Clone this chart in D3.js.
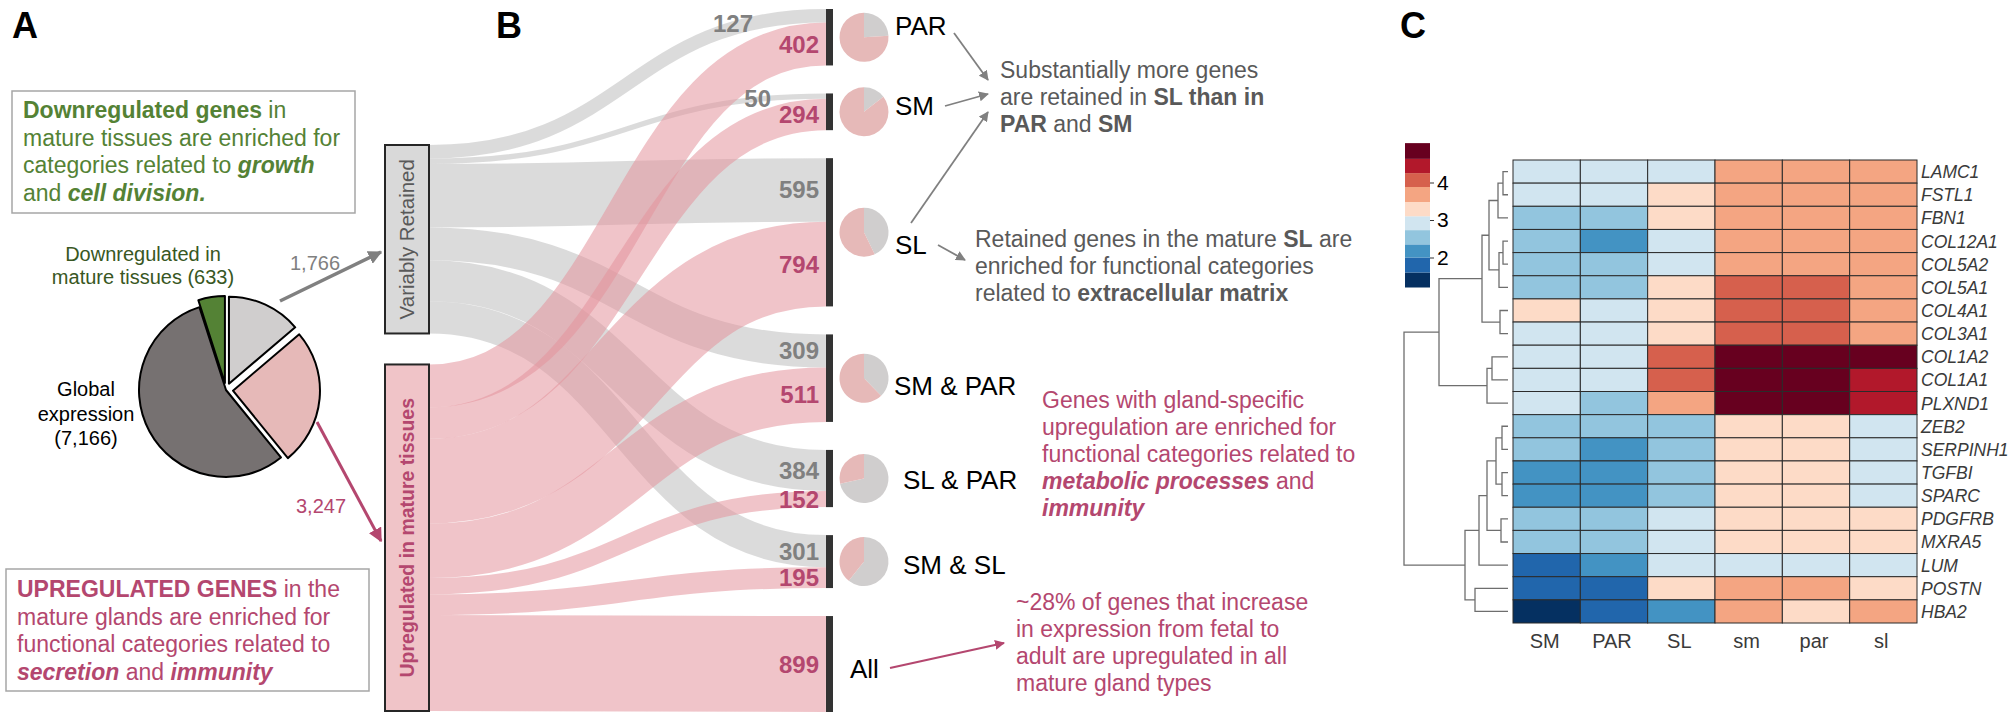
<!DOCTYPE html>
<html>
<head>
<meta charset="utf-8">
<script src="https://cdn.jsdelivr.net/npm/d3@7"></script>
<style>
  body { margin: 0; background: #fff; }
  svg { display: block; font-family: "Liberation Sans", Arial, sans-serif; }
</style>
</head>
<body>
<svg id="fig" width="2012" height="727"></svg>
<script>
// ---- panel A: global expression pie ----
const pieNames = ["Variably retained", "Upregulated", "Global expression", "Downregulated"];
const pieValues = [1766, 3247, 7166, 633];

// ---- panel B: sankey of retained / upregulated genes ----
const sourceNames = ["Variably Retained", "Upregulated in mature tissues"];
const targetNames = ["PAR", "SM", "SL", "SM & PAR", "SL & PAR", "SM & SL", "All"];
const retained = [127, 50, 595, 309, 384, 301, 0];
const upregulated = [402, 294, 794, 511, 152, 195, 899];

// ---- panel C: heatmap ----
const samples = ["SM", "PAR", "SL", "sm", "par", "sl"];
const genes = ["LAMC1", "FSTL1", "FBN1", "COL12A1", "COL5A2", "COL5A1", "COL4A1", "COL3A1",
  "COL1A2", "COL1A1", "PLXND1", "ZEB2", "SERPINH1", "TGFBI", "SPARC", "PDGFRB", "MXRA5",
  "LUM", "POSTN", "HBA2"];
const expr = [
  [2.9, 2.9, 2.9, 3.7, 3.7, 3.7],
  [2.9, 2.9, 3.3, 3.7, 3.7, 3.7],
  [2.55, 2.55, 3.3, 3.7, 3.7, 3.7],
  [2.55, 2.2, 2.9, 3.7, 3.7, 3.7],
  [2.55, 2.55, 2.9, 3.7, 3.7, 3.7],
  [2.55, 2.55, 3.3, 4.05, 4.05, 3.7],
  [3.3, 2.9, 3.3, 4.05, 4.05, 3.7],
  [2.9, 2.9, 3.3, 4.05, 4.05, 3.7],
  [2.9, 2.9, 4.05, 4.8, 4.8, 4.8],
  [2.9, 2.9, 4.05, 4.8, 4.8, 4.45],
  [2.9, 2.55, 3.7, 4.8, 4.8, 4.45],
  [2.55, 2.55, 2.55, 3.3, 3.3, 2.9],
  [2.55, 2.2, 2.55, 3.3, 3.3, 2.9],
  [2.2, 2.2, 2.55, 3.3, 3.3, 2.9],
  [2.2, 2.2, 2.55, 3.3, 3.3, 2.9],
  [2.55, 2.55, 2.9, 3.3, 3.3, 3.3],
  [2.55, 2.55, 2.9, 3.3, 3.3, 3.3],
  [1.8, 2.2, 2.9, 2.9, 2.9, 2.9],
  [1.8, 1.8, 3.3, 3.7, 3.7, 3.3],
  [1.4, 1.8, 2.2, 3.7, 3.3, 3.7]
];
const legendBreaks = [1.2, 1.6, 2.0, 2.35, 2.73, 3.1, 3.48, 3.88, 4.25, 4.63, 5.05];
const legendTicks = [2, 3, 4];
// row clustering: merge heights
const dendro = {h: 104, c: [
  {h: 69, c: [
    {h: 26, c: [
      {h: 19, c: [
        {h: 10, c: [{h: 5, c: ["LAMC1", "FSTL1"]}, "FBN1"]},
        {h: 9, c: [{h: 5, c: ["COL12A1", "COL5A2"]}, "COL5A1"]}
      ]},
      {h: 8, c: ["COL4A1", "COL3A1"]}
    ]},
    {h: 21, c: [{h: 16, c: ["COL1A2", "COL1A1"]}, "PLXND1"]}
  ]},
  {h: 43, c: [
    {h: 29, c: [
      {h: 21, c: [
        {h: 12, c: [{h: 6, c: ["ZEB2", "SERPINH1"]}, {h: 6, c: ["TGFBI", "SPARC"]}]},
        {h: 7, c: ["PDGFRB", "MXRA5"]}
      ]},
      "LUM"
    ]},
    {h: 33, c: ["POSTN", "HBA2"]}
  ]}
]};

const GREEN = "#548235", DKGREEN = "#385723", PINK = "#b4476f", GREYTXT = "#595959";

const svg = d3.select("#fig");
const defs = svg.append("defs");
function marker(id, color, size) {
  defs.append("marker").attr("id", id)
    .attr("viewBox", "0 0 10 10").attr("refX", 9).attr("refY", 5)
    .attr("markerUnits", "userSpaceOnUse")
    .attr("markerWidth", size).attr("markerHeight", size)
    .attr("orient", "auto")
    .append("path").attr("d", "M0,0L10,5L0,10z").attr("fill", color);
}
marker("arrGreyBig", "#808080", 14);
marker("arrPinkBig", PINK, 14);
marker("arrGrey", "#808080", 10);
marker("arrPink", PINK, 10);

function arrow(x1, y1, x2, y2, color, w, m) {
  svg.append("line").attr("x1", x1).attr("y1", y1).attr("x2", x2).attr("y2", y2)
    .attr("stroke", color).attr("stroke-width", w).attr("marker-end", `url(#${m})`);
}

function richText(x, y0, lh, lines, color, size, anchor) {
  const t = svg.append("text").attr("fill", color).style("font-size", size + "px")
    .attr("text-anchor", anchor || "start");
  lines.forEach((segs, i) => {
    segs.forEach((s, j) => {
      const ts = t.append("tspan").text(s[0]);
      if (j === 0) ts.attr("x", x).attr("y", y0 + i * lh);
      if (s[1] && s[1].includes("b")) ts.attr("font-weight", "bold");
      if (s[1] && s[1].includes("i")) ts.attr("font-style", "italic");
    });
  });
  return t;
}

// panel letters
[["A", 12], ["B", 496], ["C", 1400]].forEach(([l, x]) => {
  svg.append("text").attr("x", x).attr("y", 38).text(l)
    .style("font-size", "36px").attr("font-weight", "bold").attr("fill", "#000");
});

// ================= PANEL A =================
svg.append("rect").attr("x", 12).attr("y", 91).attr("width", 343).attr("height", 122)
  .attr("fill", "#fff").attr("stroke", "#a6a6a6").attr("stroke-width", 1.5);
richText(23, 118, 27.5, [
  [["Downregulated genes", "b"], [" in"]],
  [["mature tissues are enriched for"]],
  [["categories related to "], ["growth", "bi"]],
  [["and "], ["cell division.", "bi"]]
], GREEN, 23);

svg.append("rect").attr("x", 6).attr("y", 569).attr("width", 363).attr("height", 122)
  .attr("fill", "#fff").attr("stroke", "#a6a6a6").attr("stroke-width", 1.5);
richText(17, 597, 27.5, [
  [["UPREGULATED GENES", "b"], [" in the"]],
  [["mature glands are enriched for"]],
  [["functional categories related to"]],
  [["secretion", "bi"], [" and "], ["immunity", "bi"]]
], PINK, 23);

const pieColors = d3.scaleOrdinal().domain(pieNames)
  .range(["#d0cece", "#e6b9b8", "#767171", "#548235"]);
const pieA = d3.pie().sort(null)(pieValues);
const arcA = d3.arc().innerRadius(0).outerRadius(87);
const gPie = svg.append("g").attr("transform", "translate(226,390)");
gPie.selectAll("path").data(pieA).join("path")
  .attr("d", arcA)
  .attr("transform", (d, i) => {
    if (pieNames[i] === "Global expression") return null;
    const m = (d.startAngle + d.endAngle) / 2, off = 7;
    return `translate(${off * Math.sin(m)},${-off * Math.cos(m)})`;
  })
  .attr("fill", (d, i) => pieColors(pieNames[i]))
  .attr("stroke", "#000").attr("stroke-width", 2).attr("stroke-linejoin", "round");

richText(143, 261, 23, [[["Downregulated in"]], [["mature tissues (633)"]]], DKGREEN, 20, "middle");
richText(86, 396, 24.5, [[["Global"]], [["expression"]], [["(7,166)"]]], "#000", 20, "middle");

arrow(280, 301, 381, 252, "#808080", 3.5, "arrGreyBig");
svg.append("text").attr("x", 290).attr("y", 270).text(d3.format(",")(d3.sum(retained)))
  .attr("fill", "#808080").style("font-size", "20px");
arrow(317, 422, 381, 541, PINK, 3, "arrPinkBig");
svg.append("text").attr("x", 296).attr("y", 513).text(d3.format(",")(d3.sum(upregulated)))
  .attr("fill", PINK).style("font-size", "20px");

// ================= PANEL B =================
const nodeTop = 9, nodeBottom = 712, nodePad = 28;
const totals = targetNames.map((t, i) => retained[i] + upregulated[i]);
const vScale = d3.scaleLinear().domain([0, d3.sum(totals)])
  .range([0, nodeBottom - nodeTop - nodePad * (targetNames.length - 1)]);

const srcX1 = 429, srcX0 = 385, tgtX0 = 826, tgtX1 = 833;
const srcTotals = [d3.sum(retained), d3.sum(upregulated)];
const srcY0 = [145];
srcY0.push(srcY0[0] + vScale(srcTotals[0]) + 31);

const tgtY0 = [];
let acc = nodeTop;
totals.forEach(t => { tgtY0.push(acc); acc += vScale(t) + nodePad; });

// build links
const links = [];
const srcOff = srcY0.slice();
const tgtOff = tgtY0.slice();
const series = [retained, upregulated];
series.forEach((vals, s) => {
  vals.forEach((v, i) => {
    if (!v) return;
    const w = vScale(v);
    links.push({s, t: i, value: v, w, sy: srcOff[s] + w / 2});
    srcOff[s] += w;
  });
});
targetNames.forEach((name, i) => {
  [0, 1].forEach(s => {
    const l = links.find(d => d.s === s && d.t === i);
    if (!l) return;
    l.ty = tgtOff[i] + l.w / 2;
    tgtOff[i] += l.w;
  });
});

const linkPath = d3.linkHorizontal();
const linkColor = ["#bdbdbd", "#e3949c"];
svg.append("g").selectAll("path").data(links).join("path")
  .attr("d", d => linkPath({source: [srcX1, d.sy], target: [tgtX0, d.ty]}))
  .attr("fill", "none")
  .attr("stroke", d => linkColor[d.s])
  .attr("stroke-opacity", 0.55)
  .attr("stroke-width", d => d.w);

// source boxes
const srcFill = ["#d9d9d9", "#f0c4c8"];
sourceNames.forEach((n, s) => {
  const h = vScale(srcTotals[s]);
  svg.append("rect").attr("x", srcX0).attr("y", srcY0[s]).attr("width", srcX1 - srcX0).attr("height", h)
    .attr("fill", srcFill[s]).attr("stroke", "#262626").attr("stroke-width", 2);
  svg.append("text")
    .attr("transform", `translate(${(srcX0 + srcX1) / 2 + 7},${srcY0[s] + h / 2}) rotate(-90)`)
    .attr("text-anchor", "middle").text(n)
    .attr("fill", s === 0 ? GREYTXT : PINK)
    .attr("font-weight", s === 0 ? "normal" : "bold")
    .style("font-size", s === 0 ? "20.5px" : "19.5px");
});

// target bars
svg.append("g").selectAll("rect").data(targetNames).join("rect")
  .attr("x", tgtX0).attr("y", (d, i) => tgtY0[i])
  .attr("width", tgtX1 - tgtX0).attr("height", (d, i) => vScale(totals[i]))
  .attr("fill", "#333");

// value labels
const labelNudge = {"0-0": [-66, 8], "0-1": [-48, 2]};
svg.append("g").selectAll("text").data(links).join("text")
  .attr("x", d => 819 + (labelNudge[d.s + "-" + d.t] || [0, 0])[0])
  .attr("y", d => d.ty + 8.5 + (labelNudge[d.s + "-" + d.t] || [0, 0])[1])
  .attr("text-anchor", "end")
  .attr("font-weight", "bold")
  .style("font-size", "24px")
  .attr("fill", d => d.s === 0 ? "#808080" : PINK)
  .text(d => d.value);

// small pies
const pieB = d3.pie().sort(null);
const arcB = d3.arc().innerRadius(0).outerRadius(24.5);
targetNames.forEach((n, i) => {
  if (!retained[i]) return;
  const cy = tgtY0[i] + vScale(totals[i]) / 2;
  svg.append("g").attr("transform", `translate(864,${cy})`)
    .selectAll("path").data(pieB([retained[i], upregulated[i]])).join("path")
    .attr("d", arcB).attr("fill", (d, j) => j === 0 ? "#d0cece" : "#e6b9b8");
});

// node labels
const nodeLabelPos = {"PAR": [895, -2], "SM": [895, 3], "SL": [895, 22], "SM & PAR": [894, 17],
  "SL & PAR": [903, 10], "SM & SL": [903, 12], "All": [850, 14]};
targetNames.forEach((n, i) => {
  const cy = tgtY0[i] + vScale(totals[i]) / 2;
  svg.append("text").attr("x", nodeLabelPos[n][0]).attr("y", cy + nodeLabelPos[n][1])
    .text(n).attr("fill", "#000").style("font-size", "26px");
});

// annotations
richText(1000, 78, 27, [
  [["Substantially more genes"]],
  [["are retained in "], ["SL than in", "b"]],
  [["PAR", "b"], [" and "], ["SM", "b"]]
], GREYTXT, 23);
richText(975, 247, 27, [
  [["Retained genes in the mature "], ["SL", "b"], [" are"]],
  [["enriched for functional categories"]],
  [["related to "], ["extracellular matrix", "b"]]
], GREYTXT, 23);
richText(1042, 408, 27, [
  [["Genes with gland-specific"]],
  [["upregulation are enriched for"]],
  [["functional categories related to"]],
  [["metabolic processes", "bi"], [" and"]],
  [["immunity", "bi"]]
], PINK, 23);
richText(1016, 610, 27, [
  [["~28% of genes that increase"]],
  [["in expression from fetal to"]],
  [["adult are upregulated in all"]],
  [["mature gland types"]]
], PINK, 23);

arrow(954, 33, 988, 80, "#808080", 1.8, "arrGrey");
arrow(945, 106, 988, 94, "#808080", 1.8, "arrGrey");
arrow(911, 223, 988, 112, "#808080", 1.8, "arrGrey");
arrow(938, 245, 965, 260, "#808080", 1.8, "arrGrey");
arrow(890, 668, 1004, 643, PINK, 2.2, "arrPink");

// ================= PANEL C =================
const colors = d3.schemeRdBu[10].slice().reverse();
const color = d3.scaleThreshold().domain(legendBreaks.slice(1, -1)).range(colors);

const x = d3.scaleBand().domain(samples).range([1513, 1917]);
const y = d3.scaleBand().domain(genes).range([160, 623]);

const cells = [];
genes.forEach((g, r) => samples.forEach((s, c) => cells.push({g, s, v: expr[r][c]})));
svg.append("g").selectAll("rect").data(cells).join("rect")
  .attr("x", d => x(d.s)).attr("y", d => y(d.g))
  .attr("width", x.bandwidth()).attr("height", y.bandwidth())
  .attr("fill", d => color(d.v))
  .attr("stroke", "#2b2b2b").attr("stroke-width", 1);

svg.append("g").selectAll("text").data(genes).join("text")
  .attr("x", 1921).attr("y", d => y(d) + y.bandwidth() / 2 + 6.5)
  .text(d => d).attr("font-style", "italic").attr("fill", "#3a3a3a").style("font-size", "17.5px");

svg.append("g").selectAll("text").data(samples).join("text")
  .attr("x", d => x(d) + x.bandwidth() / 2 - 2).attr("y", 648)
  .attr("text-anchor", "middle").text(d => d).attr("fill", "#3a3a3a").style("font-size", "20px");

// dendrogram
const root = d3.hierarchy(dendro, d => (typeof d === "string") ? null : d.c);
const hx = d3.scaleLinear().domain([0, dendro.h]).range([1508, 1404]);
root.eachAfter(n => {
  if (!n.children) {
    n.py = y(n.data) + y.bandwidth() / 2;
    n.px = hx(0);
  } else {
    n.py = d3.mean(n.children, c => c.py);
    n.px = hx(n.data.h);
  }
});
svg.append("g").selectAll("path").data(root.descendants().filter(n => n.children)).join("path")
  .attr("d", n => {
    const [a, b] = n.children;
    return `M${a.px},${a.py}H${n.px}V${b.py}H${b.px}`;
  })
  .attr("fill", "none").attr("stroke", "#6e6e6e").attr("stroke-width", 1.3);

// colour legend
const ly = d3.scaleLinear().domain([2, 4]).range([257.5, 182.5]);
const legend = svg.append("g");
legend.selectAll("rect").data(colors).join("rect")
  .attr("x", 1405).attr("width", 25)
  .attr("y", (d, i) => ly(legendBreaks[i + 1]))
  .attr("height", (d, i) => ly(legendBreaks[i]) - ly(legendBreaks[i + 1]))
  .attr("fill", d => d);
const lAxis = legend.append("g").attr("transform", "translate(1430,0)")
  .call(d3.axisRight(ly).tickValues(legendTicks).tickSize(4).tickFormat(d3.format("d")));
lAxis.select(".domain").remove();
lAxis.selectAll("text").style("font-size", "21px").attr("fill", "#000")
  .style("font-family", "'Liberation Sans', Arial, sans-serif");
lAxis.selectAll("line").attr("stroke", "#333");
</script>
</body>
</html>
